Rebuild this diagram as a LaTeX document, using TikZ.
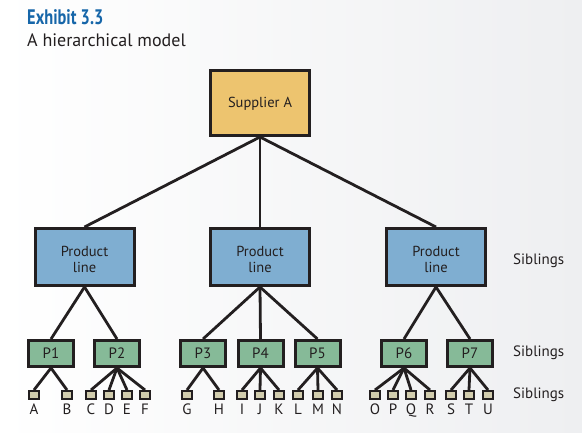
\documentclass[tikz,border=0pt]{standalone}
\usepackage{fontspec}
\setmainfont{PT Sans}
\newfontfamily\titlefont[FakeStretch=0.78]{PT Sans Bold}
\definecolor{bord}{HTML}{231F20}
\definecolor{supfill}{HTML}{EDC46F}
\definecolor{plfill}{HTML}{7FAED1}
\definecolor{pfill}{HTML}{86BA98}
\definecolor{leaffill}{HTML}{D2CDAE}
\definecolor{titleblue}{HTML}{1666A9}
\definecolor{bggray}{HTML}{EEEFF1}
\newcommand{\pltxt}{\raisebox{-4pt}[\height][\depth]{\begin{tabular}{@{}c@{}}Product\\[-1pt]line\end{tabular}}}
\begin{document}
\begin{tikzpicture}[x=1pt,y=-1pt,
  bigbox/.style={draw=bord,line width=3pt,minimum width=99pt,minimum height=60pt,inner sep=0pt,font=\fontsize{14.5}{16.5}\selectfont,text=bord},
  pbox/.style={draw=bord,fill=pfill,line width=3pt,minimum width=45pt,minimum height=26pt,inner sep=0pt,font=\fontsize{15}{17}\selectfont,text=bord},
  leaf/.style={draw=bord,fill=leaffill,line width=2pt,minimum width=10pt,minimum height=8pt,inner sep=0pt},
  lbl/.style={font=\fontsize{15}{17}\selectfont,text=bord,inner sep=0pt},
  sib/.style={font=\fontsize{15}{17}\selectfont,text=bord,anchor=west,inner sep=0pt},
  conn/.style={draw=bord,line width=2.8pt}]
\useasboundingbox (0,0) rectangle (582,433);
\shade[left color=white,right color=bggray] (0,0) rectangle (582,433);
\node[anchor=base west,inner sep=0pt,text=titleblue,font=\titlefont\fontsize{21}{24}\selectfont] (title) at (27,25) {Exhibit 3.3};
\node[anchor=base west,inner sep=0pt,text=bord,font=\fontsize{18}{22}\selectfont] (subtitle) at (27,47) {A hierarchical model};
% boxes
\node[bigbox,fill=supfill,minimum height=65pt] (root) at (260,103) {\raisebox{-1pt}[\height][\depth]{Supplier A}};
\node[bigbox,fill=plfill,minimum height=57pt] (pl1) at (84.5,257) {\pltxt};
\node[bigbox,fill=plfill,minimum height=57pt] (pl2) at (260,257) {\pltxt};
\node[bigbox,fill=plfill,minimum height=57pt] (pl3) at (436,257) {\pltxt};
\node[pbox] (p1) at (51,353.5) {P1};
\node[pbox] (p2) at (117,353.5) {P2};
\node[pbox] (p3) at (203,353.5) {P3};
\node[pbox] (p4) at (260.5,353.5) {P4};
\node[pbox] (p5) at (317.5,353.5) {P5};
\node[pbox] (p6) at (404,353.5) {P6};
\node[pbox] (p7) at (470,353.5) {P7};
\foreach \n/\x in {A/34,B/67,C/91,D/109,E/127,F/145,G/187,H/219,I/242,J/260,K/279,L/298,M/318,N/337,O/375,P/393,Q/411,R/430,S/451,T/469,U/488}{
  \node[leaf] (l\n) at (\x,395) {};
  \node[lbl,anchor=base] (t\n) at (\x,414) {\n};
}
% connectors
\foreach \c in {pl1,pl2,pl3} \draw[conn] (root.south) -- (\c.north);
\foreach \c in {p1,p2} \draw[conn] (pl1.south) -- (\c.north);
\foreach \c in {p3,p4,p5} \draw[conn] (pl2.south) -- (\c.north);
\foreach \c in {p6,p7} \draw[conn] (pl3.south) -- (\c.north);
\foreach \c in {A,B} \draw[conn] (p1.south) -- (l\c.north);
\foreach \c in {C,D,E,F} \draw[conn] (p2.south) -- (l\c.north);
\foreach \c in {G,H} \draw[conn] (p3.south) -- (l\c.north);
\foreach \c in {I,J,K} \draw[conn] (p4.south) -- (l\c.north);
\foreach \c in {L,M,N} \draw[conn] (p5.south) -- (l\c.north);
\foreach \c in {O,P,Q,R} \draw[conn] (p6.south) -- (l\c.north);
\foreach \c in {S,T,U} \draw[conn] (p7.south) -- (l\c.north);
% siblings
\node[sib] (s1) at (513,261) {Siblings};
\node[sib] (s2) at (513,353) {Siblings};
\node[sib] (s3) at (513,395) {Siblings};
\end{tikzpicture}
\end{document}
